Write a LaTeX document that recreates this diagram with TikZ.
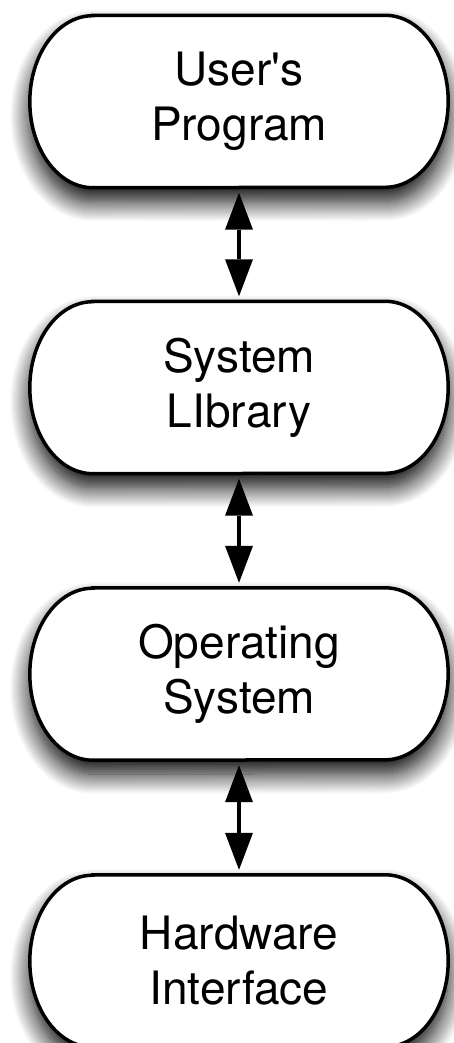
\documentclass[tikz,border=0pt]{standalone}
\usepackage{fontspec}
\setmainfont{TeX Gyre Heros}
\usetikzlibrary{arrows.meta,shadows.blur}

\tikzset{
  layer/.style={minimum width=418pt, minimum height=172pt, inner sep=0pt,
    align=center, font=\fontsize{46}{55}\selectfont},
  capsule/.style={line width=3.5pt, fill=white,
    blur shadow={shadow xshift=0pt, shadow yshift=-14pt,
      shadow blur radius=20pt, shadow blur steps=20, shadow opacity=100}},
  tip/.tip={Triangle[width=28pt, length=37pt, fill=black, line width=0pt]},
  link/.style={line width=3.5pt, tip-tip, shorten <=5pt, shorten >=5pt}
}

% outline of a layer box with half-ellipse ends
\newcommand\capsulebox[1]{%
  \draw[capsule] ([xshift=63pt]#1.north west) -- ([xshift=-63pt]#1.north east)
    arc[start angle=90, end angle=-90, x radius=63pt, y radius=86pt]
    -- ([xshift=63pt]#1.south west)
    arc[start angle=270, end angle=90, x radius=63pt, y radius=86pt] -- cycle;}

\begin{document}
\begin{tikzpicture}[x=1pt, y=1pt]
    \useasboundingbox (0,0) rectangle (454,-1043);

    \coordinate (c1) at (239,-101.5);
    \coordinate (c2) at (239,-387.5);
    \coordinate (c3) at (239,-674);
    \coordinate (c4) at (239,-961);

    \node[layer] (user) at (c1) {};
    \node[layer] (lib)  at (c2) {};
    \node[layer] (os)   at (c3) {};
    \node[layer] (hw)   at (c4) {};

    \capsulebox{user}
    \capsulebox{lib}
    \capsulebox{os}
    \capsulebox{hw}

    \node[layer] at (user) {User\textquotesingle s\\Program};
    \node[layer] at (lib)  {System\\LIbrary};
    \node[layer] at (os)   {Operating\\System};
    \node[layer] at (hw)   {Hardware\\Interface};

    \draw[link] (user) -- (lib);
    \draw[link] (lib) -- (os);
    \draw[link] (os) -- (hw);
\end{tikzpicture}
\end{document}
